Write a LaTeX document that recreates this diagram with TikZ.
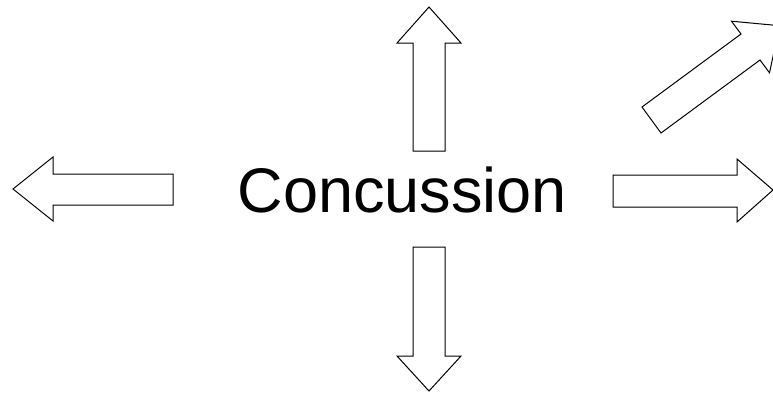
\documentclass[tikz,border=0pt]{standalone}
\usepackage{fontspec}
\setmainfont{Liberation Sans}
\begin{document}
\begin{tikzpicture}[x=1pt,y=-1pt,
  blockarrow/.style={draw=black,line width=1pt,line join=miter,fill=white},
  label/.style={font=\fontsize{63}{76}\selectfont,inner sep=0pt,anchor=base}]
\useasboundingbox (0,0) rectangle (773,392);
\clip (0,0) rectangle (773,392);
% up arrow
\draw[blockarrow] (413,151) -- (413,43) -- (397,43) -- (429,7) -- (461,43) -- (445,43) -- (445,151) -- cycle;
% down arrow
\draw[blockarrow] (413,247) -- (413,356) -- (397,356) -- (429,391) -- (461,356) -- (445,356) -- (445,247) -- cycle;
% left arrow
\draw[blockarrow] (173,174) -- (53,174) -- (53,157) -- (13,189) -- (53,221) -- (53,205) -- (173,205) -- cycle;
% right arrow
\draw[blockarrow] (613,175) -- (737,175) -- (737,159) -- (773,190) -- (737,222) -- (737,207) -- (613,207) -- cycle;
% diagonal arrow
\draw[blockarrow] (642,107) -- (741,34) -- (731.5,21.2) -- (779.5,25.7) -- (769.5,72.8) -- (760,60) -- (661,133) -- cycle;
\node[label] (concussion) at (402.5,212) {Concussion};
\end{tikzpicture}
\end{document}
